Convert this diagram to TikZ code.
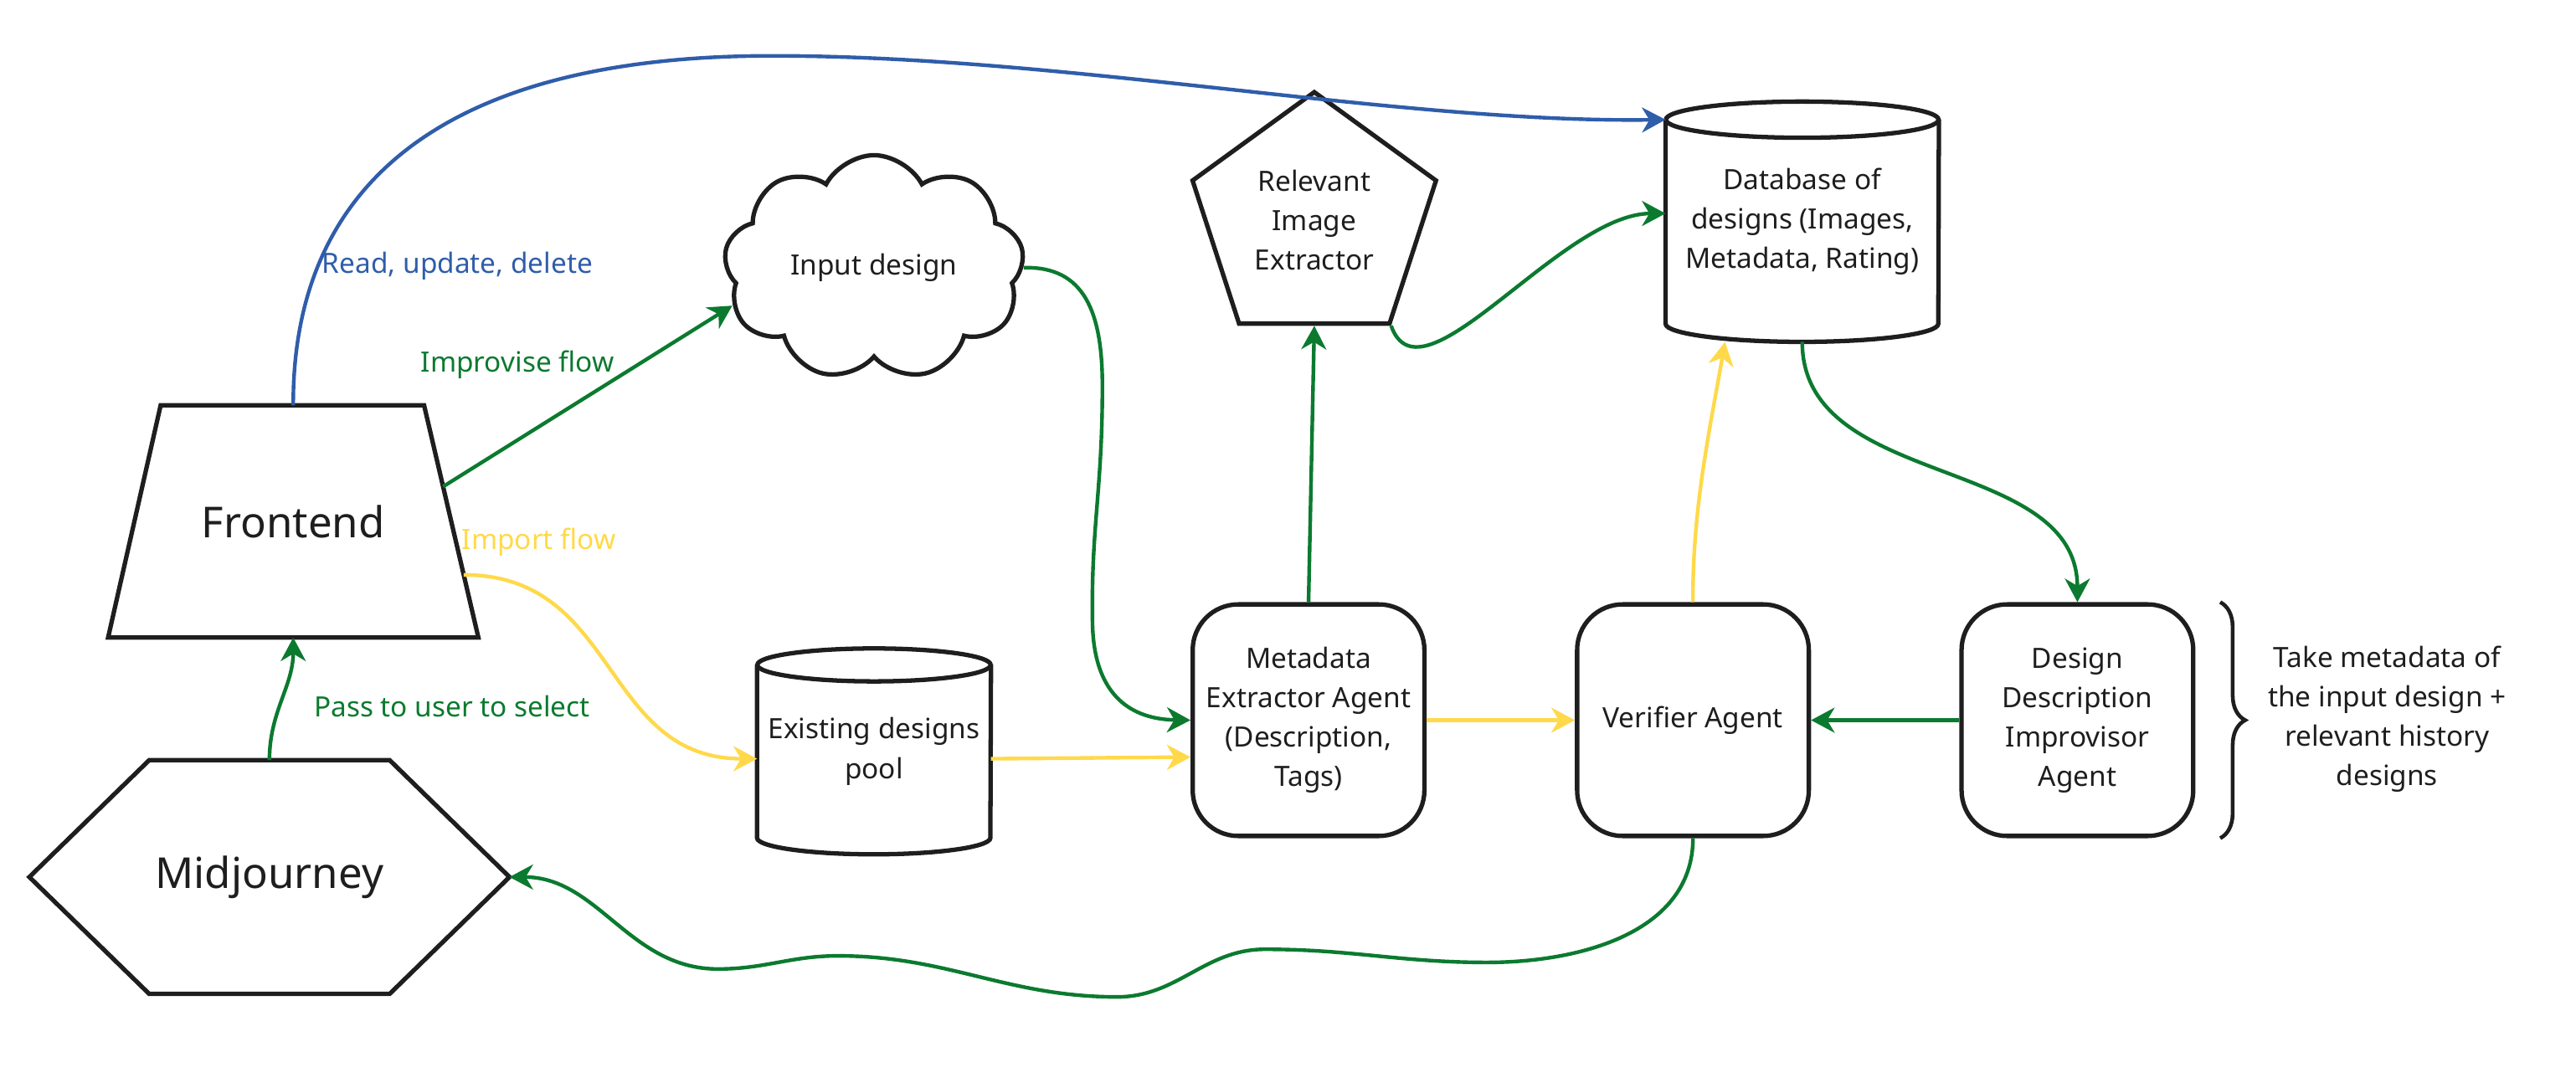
\documentclass[tikz,border=0pt]{standalone}
\usepackage{fontspec}
\setmainfont{Noto Sans}
\usetikzlibrary{shapes.geometric,shapes.symbols,arrows.meta,calc,decorations.pathreplacing}
\definecolor{cgreen}{HTML}{0B7A2F}
\definecolor{cblue}{HTML}{2F5DAA}
\definecolor{cyellow}{HTML}{FFD94A}
\definecolor{cink}{HTML}{1E1E1E}
\begin{document}
\begin{tikzpicture}[x=1.1168pt,y=-1.1168pt,
  shp/.style={draw=cink, line width=3pt, fill=white},
  outline/.style={draw=cink, line width=3pt, line join=miter},
  txt/.style={font=\fontsize{19}{26.8}\selectfont, text=cink, align=center},
  big/.style={font=\fontsize{29}{34}\selectfont, text=cink},
  agent/.style={shp, txt, rounded corners=31pt, minimum width=157.5pt, minimum height=157.5pt, inner sep=0pt},
  hold/.style={draw=none, inner sep=0pt},
  conn/.style={line width=2.5pt, -{Stealth[length=16pt,width=17pt,inset=5pt]}},
  gline/.style={conn, draw=cgreen},
  yline/.style={conn, draw=cyellow},
  bline/.style={conn, draw=cblue},
  lbl/.style={font=\fontsize{19}{24}\selectfont, anchor=west, inner sep=0pt}
]
\useasboundingbox (0,0) rectangle (1568,662);

% ---- shapes ----
\node[hold, big, minimum width=251.3pt, minimum height=157.5pt] (fe) at (178.5,317.5) {Frontend};
\coordinate (fetr) at ([xshift=-36.9pt]fe.north east);
\draw[outline] ([xshift=35.7pt]fe.north west) -- (fetr) -- (fe.south east) -- (fe.south west) -- cycle;

\node[hold, big, minimum width=326pt, minimum height=158.6pt] (mj) at (164,534) {Midjourney};
\draw[outline] (mj.west) -- ([xshift=81.5pt]mj.north west) -- ([xshift=-81.5pt]mj.north east)
  -- (mj.east) -- ([xshift=-81.5pt]mj.south east) -- ([xshift=81.5pt]mj.south west) -- cycle;

\node[shp, txt, cloud, cloud puffs=9, cloud puff arc=125, cloud ignores aspect,
      minimum width=204pt, minimum height=153pt, inner sep=0pt] (cl) at (532,163) {Input design};

\node[shp, txt, regular polygon, regular polygon sides=5, minimum size=174pt, inner sep=0pt]
      (pent) at (800,134) {Relevant\\Image\\Extractor};

\node[hold, txt, minimum width=185.4pt, minimum height=163pt] (db) at (1097,135)
      {Database of\\designs (Images,\\Metadata, Rating)};
\draw[outline] ([yshift=-12.3pt]db.north west) -- ([yshift=12.3pt]db.south west)
  arc[start angle=180, end angle=360, x radius=92.7pt, y radius=12.3pt]
  -- ([yshift=-12.3pt]db.north east);
\draw[outline] ([yshift=-12.3pt]db.north) ellipse [x radius=92.7pt, y radius=12.3pt];

\node[hold, txt, minimum width=158.6pt, minimum height=139.6pt] (pool) at (532,457.5)
      {Existing designs\\pool};
\draw[outline] ([yshift=-11.2pt]pool.north west) -- ([yshift=11.2pt]pool.south west)
  arc[start angle=180, end angle=360, x radius=79.3pt, y radius=11.2pt]
  -- ([yshift=-11.2pt]pool.north east);
\draw[outline] ([yshift=-11.2pt]pool.north) ellipse [x radius=79.3pt, y radius=11.2pt];

\node[agent] (mea) at (796.5,438.5) {Metadata\\Extractor Agent\\(Description,\\Tags)};
\node[agent] (ver) at (1030.5,438.5) {Verifier Agent};
\node[agent] (dd) at (1264.5,438.5) {Design\\Description\\Improvisor\\Agent};

\draw[draw=cink, line width=2.6pt, decorate, decoration={brace, amplitude=17pt}]
  ([xshift=16.8pt]dd.north east) -- ([xshift=16.8pt]dd.south east);
\node[txt] (note) at (1453,438) {Take metadata of\\the input design +\\relevant history\\designs};

% ---- connectors ----
\draw[bline] (fe.north) .. controls (178,120) and (260,34) .. (470,34)
  .. controls (650,34) and (850,75) .. ([yshift=-12.3pt]db.north west);
\node[lbl, text=cblue] (lrud) at (196,162) {Read, update, delete};

\draw[gline] ($(fetr)!0.35!(fe.south east)$) -- (cl.195);
\node[lbl, text=cgreen] (limp) at (256,222) {Improvise flow};

\draw[yline] ($(fetr)!0.73!(fe.south east)$)
  to[out=0, in=180, looseness=1.15] ([yshift=-5pt]pool.west);
\node[lbl, text=cyellow] (limport) at (281,330) {Import flow};

\draw[gline] (mj.north) to[out=90, in=-90] (fe.south);
\node[lbl, text=cgreen] (lpass) at (191,430) {Pass to user to select};

\draw[gline] (cl.east) .. controls (660,162) and (671,190) .. (671,235)
  .. controls (671,300) and (664,320) .. (665,380)
  .. controls (666,425) and (690,438) .. (mea.west);

\draw[yline] ([yshift=-5pt]pool.east) -- ([yshift=-25.1pt]mea.west);

\draw[gline] (mea.north) -- (pent.south);

\draw[gline] (pent.corner 4) .. controls (865,250) and (950,130) .. ([yshift=5.6pt]db.west);

\draw[yline] (mea.east) -- (ver.west);

\draw[yline] (ver.north) .. controls (1030,310) and (1041,260) .. ([xshift=-52.5pt]db.south);

\draw[gline] (db.south) to[out=-90, in=90] (dd.north);

\draw[gline] (dd.west) -- (ver.east);

\draw[gline] (ver.south) to[out=-90, in=0] (905,586) to[out=180, in=0] (770,578)
  to[out=180, in=0] (680,607) to[out=180, in=0] (510,582) to[out=180, in=0] (437,590)
  to[out=180, in=0] (mj.east);
\end{tikzpicture}
\end{document}
